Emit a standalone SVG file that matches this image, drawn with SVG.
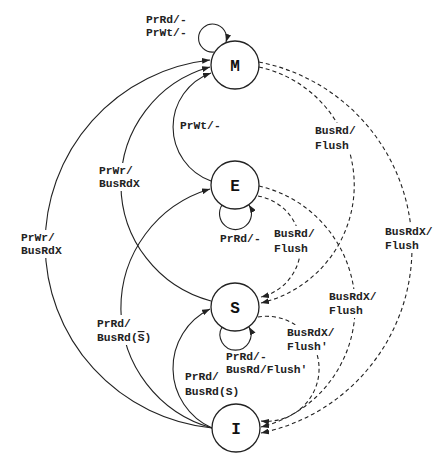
<svg xmlns="http://www.w3.org/2000/svg" width="443" height="466" viewBox="0 0 443 466">
<style>
.node circle{fill:#fff;stroke:#222;stroke-width:1.3}
.node text{font-family:"Liberation Mono","DejaVu Sans Mono",monospace;font-weight:bold;font-size:16px;fill:#111;text-anchor:middle}
.e{fill:none;stroke:#222;stroke-width:1.1;marker-end:url(#ah)}
.d{stroke-dasharray:4,3}
.lbl text{font-family:"Liberation Mono","DejaVu Sans Mono",monospace;font-weight:bold;font-size:11.3px;fill:#222}
.lbl rect{fill:#fff;stroke:none}
</style>
<defs>
<marker id="ah" viewBox="0 0 8 6" refX="8" refY="3" markerWidth="8" markerHeight="6" markerUnits="userSpaceOnUse" orient="auto"><path d="M0,0 L8,3 L0,6 z" fill="#222"/></marker>
</defs>
<rect width="443" height="466" fill="#fff"/>
<g id="connectors">
<path class="e" d="M214,52 A14 14 0 1 1 226,42"/>
<path class="e" d="M222,205 A16 16 0 1 0 249,205"/>
<path class="e" d="M222,327 A15.5 15.5 0 1 0 249,327"/>
<path class="e" d="M211,181 A57.4 57.4 0 0 1 211,73"/>
<path class="e" d="M211,301 A121.2 121.2 0 0 1 210,67"/>
<path class="e" d="M212,428 A185 185 0 0 1 210,60"/>
<path class="e" d="M212,428 A124.3 124.3 0 0 1 210,189"/>
<path class="e" d="M212,428 A65.6 65.6 0 0 1 210,309"/>
<path class="e d" d="M259,67 A121 121 0 0 1 261,303"/>
<path class="e d" d="M259,62 A189.2 189.2 0 0 1 261,433"/>
<path class="e d" d="M258,196 A51.6 51.6 0 0 1 261,297"/>
<path class="e d" d="M259,186 A123.9 123.9 0 0 1 261,427"/>
<path class="e d" d="M258,317 A52.5 52.5 0 1 1 261,421"/>
</g>
<g id="labels" class="lbl">
<g><text x="146" y="23">PrRd/-</text><text x="146" y="36">PrWt/-</text></g>
<g><text x="180" y="129">PrWt/-</text></g>
<g><rect x="97" y="163" width="46" height="28"/><text x="99" y="174">PrWr/</text><text x="99" y="187">BusRdX</text></g>
<g><rect x="313" y="123" width="45" height="30"/><text x="315" y="134">BusRd/</text><text x="315" y="149">Flush</text></g>
<g><rect x="19" y="230" width="46" height="28"/><text x="21" y="241">PrWr/</text><text x="21" y="254">BusRdX</text></g>
<g><text x="220" y="242">PrRd/-</text></g>
<g><rect x="272" y="226" width="45" height="30"/><text x="274" y="237">BusRd/</text><text x="274" y="252">Flush</text></g>
<g><rect x="383" y="224" width="52" height="29"/><text x="385" y="235">BusRdX/</text><text x="385" y="249">Flush</text></g>
<g><rect x="327" y="289" width="52" height="29"/><text x="329" y="300">BusRdX/</text><text x="329" y="314">Flush</text></g>
<g><rect x="95" y="315" width="58" height="30"/><text x="97" y="327">PrRd/</text><text x="97" y="341">BusRd(<tspan text-decoration="overline">S</tspan>)</text></g>
<g><rect x="285" y="325" width="52" height="29"/><text x="287" y="336">BusRdX/</text><text x="287" y="350">Flush′</text></g>
<g><text x="226" y="360">PrRd/-</text><text x="226" y="373">BusRd/Flush′</text></g>
<g><text x="185" y="380">PrRd/</text><text x="185" y="395">BusRd(S)</text></g>
</g>
<g id="node-M" class="node"><circle cx="235" cy="65" r="24"/><text x="235" y="71">M</text></g>
<g id="node-E" class="node"><circle cx="235" cy="185" r="24"/><text x="235" y="191">E</text></g>
<g id="node-S" class="node"><circle cx="235" cy="307" r="24"/><text x="235" y="313">S</text></g>
<g id="node-I" class="node"><circle cx="236" cy="428" r="24"/><text x="236" y="434">I</text></g>
</svg>
